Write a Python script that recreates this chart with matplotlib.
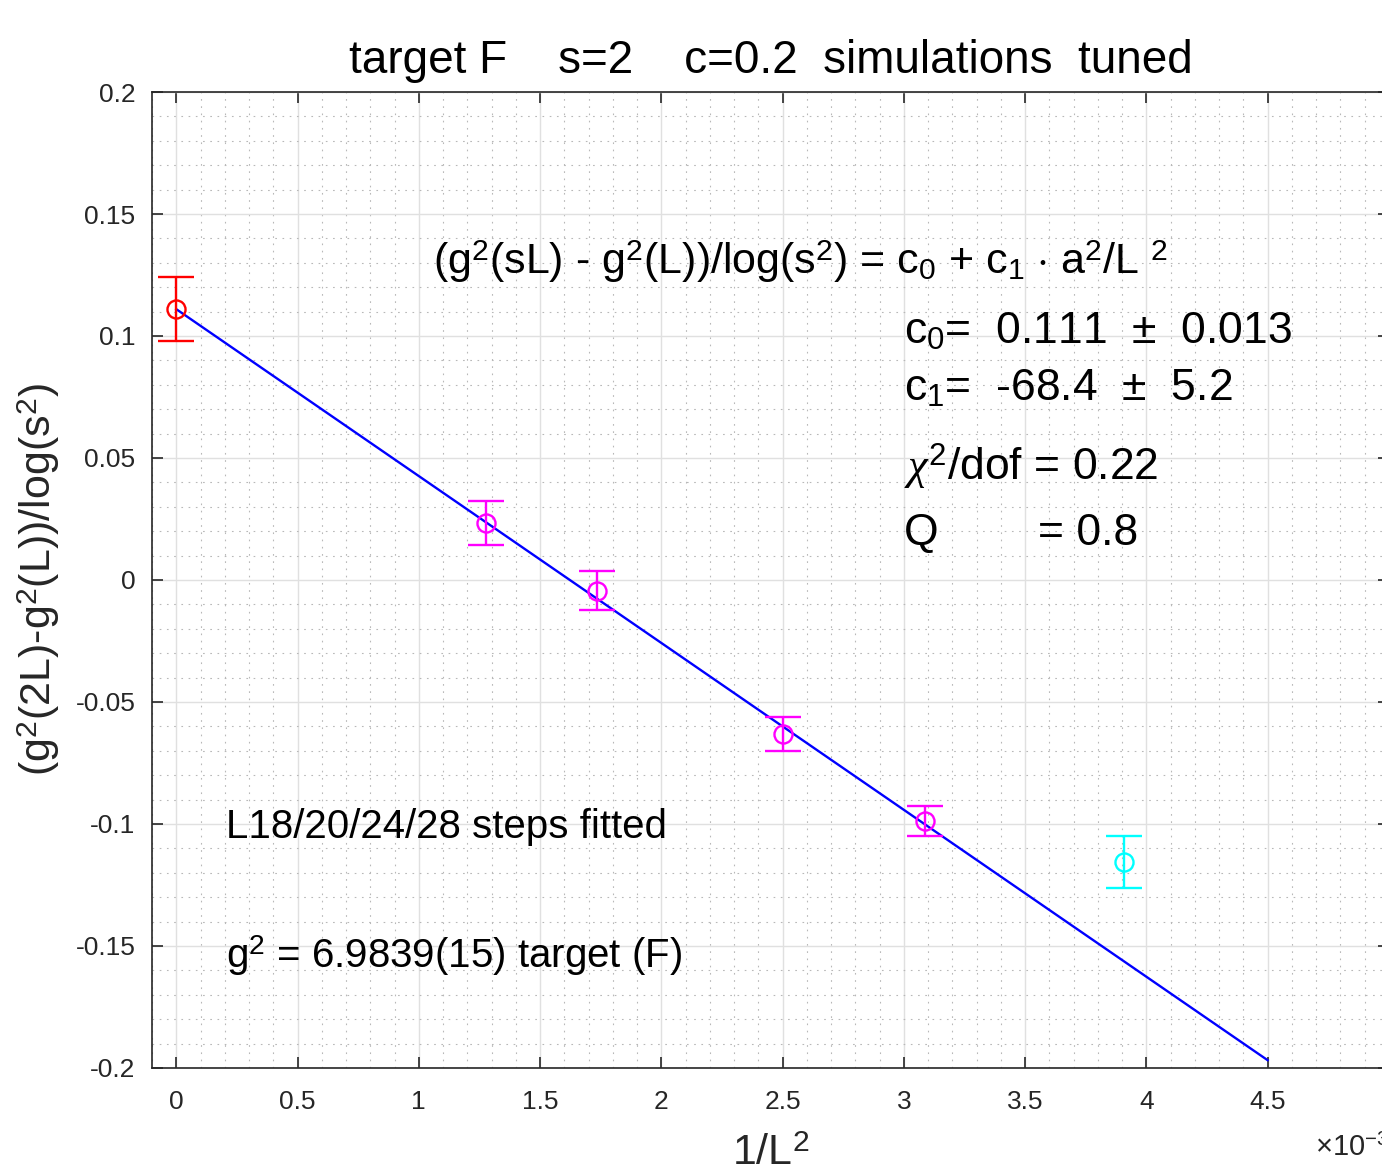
import numpy as np
import matplotlib
matplotlib.use("Agg")
import matplotlib.pyplot as plt
from matplotlib.ticker import MultipleLocator, FuncFormatter

plt.rcParams['font.family'] = ['Liberation Sans', 'DejaVu Sans']
plt.rcParams['mathtext.fontset'] = 'custom'
plt.rcParams['mathtext.rm'] = 'Liberation Sans'
plt.rcParams['mathtext.it'] = 'Liberation Serif:italic'
plt.rcParams['mathtext.bf'] = 'Liberation Sans:bold'

# lattice sizes and step scaling function data
L_fit = [28, 24, 20, 18]
y_fit = [0.0234, -0.0045, -0.0631, -0.0988]
e_fit = [0.0089, 0.0080, 0.0070, 0.0060]

L_out = [16]
y_out = [-0.1156]
e_out = [0.0107]

c0, c0_err = 0.111, 0.013
c1, c1_err = -68.4, 5.2
chi2_dof = 0.22
Q = 0.8

x_fit = 1.0 / np.array(L_fit, float) ** 2
x_out = 1.0 / np.array(L_out, float) ** 2

fig = plt.figure(figsize=(13.82, 11.69), dpi=100)
ax = fig.add_axes([0.110, 0.0864, 0.895, 0.8349])

ink = '#262626'

# fit line c0 + c1 * x
xl = np.linspace(0, 0.0045, 50)
ax.plot(xl, c0 + c1 * xl, color='#0000ff', lw=1.7, zorder=3)

kw = dict(fmt='o', ms=13, mfc='none', mew=1.7, elinewidth=1.7, capsize=13, capthick=1.7, zorder=4)
ax.errorbar([0], [c0], yerr=[c0_err], color='#ff0000', **kw)
ax.errorbar(x_fit, y_fit, yerr=e_fit, color='#ff00ff', **kw)
ax.errorbar(x_out, y_out, yerr=e_out, color='#00ffff', **kw)

ax.set_xlim(-0.0001, 0.005)
ax.set_ylim(-0.2, 0.2)
ax.xaxis.set_major_locator(MultipleLocator(0.0005))
ax.xaxis.set_minor_locator(MultipleLocator(0.0001))
ax.yaxis.set_major_locator(MultipleLocator(0.05))
ax.yaxis.set_minor_locator(MultipleLocator(0.01))
ax.xaxis.set_major_formatter(FuncFormatter(lambda v, p: '%g' % round(v * 1e3, 4)))
ax.yaxis.set_major_formatter(FuncFormatter(lambda v, p: '%g' % round(v, 4)))

ax.grid(which='major', color='#e0e0e0', lw=1.0, zorder=0)
ax.grid(which='minor', color='#b8b8b8', lw=0.8, ls=(0, (1.5, 5)), zorder=0)
ax.set_axisbelow(True)

ax.tick_params(which='major', direction='in', length=8, width=1.2, color=ink,
               labelcolor=ink, labelsize=19, top=True, right=True)
ax.tick_params(axis='x', which='major', pad=16)
ax.tick_params(axis='y', which='major', pad=12)
ax.tick_params(which='minor', length=0)
for s in ax.spines.values():
    s.set_color(ink)
    s.set_linewidth(1.2)

ax.set_title('target F    s=2    c=0.2  simulations  tuned', fontsize=33,
             family=['Liberation Sans Narrow', 'Liberation Sans'], pad=14, color='black')
ax.set_xlabel(r'1/L$^2$', fontsize=31, color=ink, labelpad=14)
ax.set_ylabel(r'(g$^2$(2L)-g$^2$(L))/log(s$^2$)', fontsize=31, color=ink, labelpad=10)
ax.text(1.0, -0.082, r'$\times$10$^{-3}$', transform=ax.transAxes, ha='right', va='center',
        fontsize=21, color=ink)

# fit results
ax.text(0.00106, 0.1305,
        r'(g$^2$(sL) - g$^2$(L))/log(s$^2$) = c$_0$ + c$_1$ $\cdot$ a$^2$/L $^2$',
        fontsize=31, va='center')
ax.text(0.00300, 0.1020, r'c$_0$=  %.3f  $\pm$  %.3f' % (c0, c0_err), fontsize=32, va='center')
ax.text(0.00300, 0.0785, r'c$_1$=  %.1f  $\pm$  %.1f' % (c1, c1_err), fontsize=32, va='center')
ax.text(0.00300, 0.0465, r'$\chi^2$/dof = %.2f' % chi2_dof, fontsize=32, va='center')
ax.text(0.00300, 0.0190, 'Q', fontsize=32, va='center')
ax.text(0.003555, 0.0190, '= %.1f' % Q, fontsize=32, va='center')

ax.text(0.000205, -0.1012, 'L18/20/24/28 steps fitted', fontsize=29, va='center')
ax.text(0.000205, -0.1540, r'g$^2$ = 6.9839(15) target (F)', fontsize=29, va='center')

fig.savefig('out.png', dpi=100)
